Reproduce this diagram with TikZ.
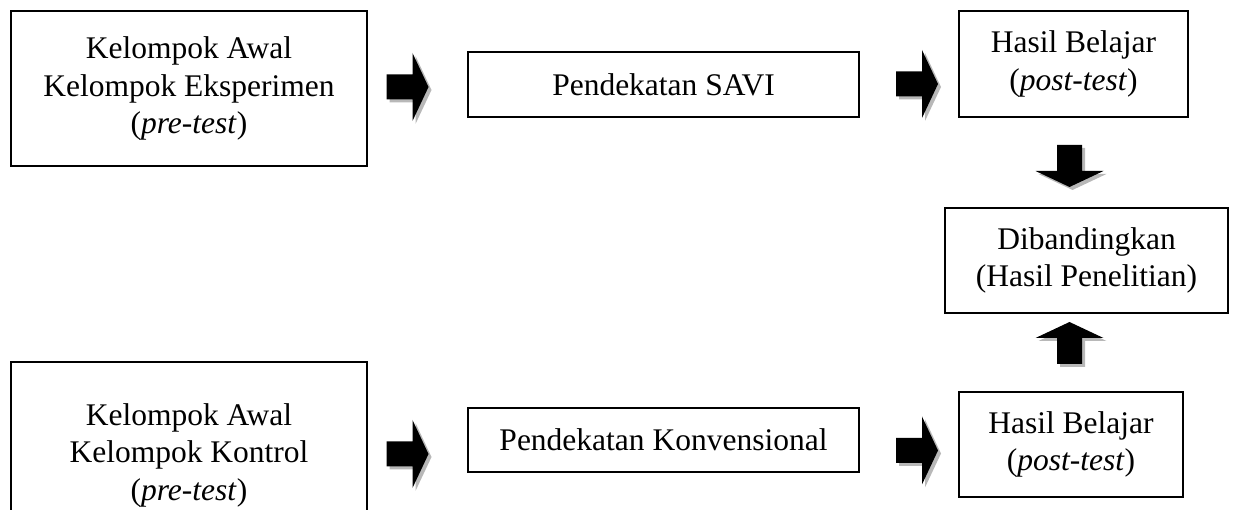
\documentclass[tikz,border=0pt]{standalone}
\usepackage{fontspec}
\setmainfont{Liberation Serif}
\usetikzlibrary{calc}
\definecolor{shadowgray}{gray}{0.72}
\tikzset{
  blockarrow/.pic={
    \fill[pic actions] (-21,-12.5) -- (5,-12.5) -- (5,-34) -- (21,0) -- (5,34) -- (5,12.5) -- (-21,12.5) -- cycle;
  },
  box/.style={draw, line width=1.1pt, align=center, inner sep=0pt,
    font=\fontsize{31.5}{37.5}\selectfont},
}
\newcommand{\myarrow}[2]{%
  \pic[fill=shadowgray, rotate=#2] at ($(#1)+(3,-3)$) {blockarrow};
  \pic[fill=black, rotate=#2] at (#1) {blockarrow};
}
\begin{document}
\begin{tikzpicture}[x=1pt,y=1pt]
\useasboundingbox (0,0) rectangle (1236,510);
\node[box, minimum width=356pt, minimum height=155pt] (A) at (189,421.5)
  {Kelompok Awal\\Kelompok Eksperimen\\(\textit{pre-test})};
\node[box, minimum width=391pt, minimum height=65pt] (B) at (663.5,425.5)
  {Pendekatan SAVI};
\node[box, minimum width=229pt, minimum height=106pt] (C) at (1073.5,446)
  {Hasil Belajar\\(\textit{post-test})};
\node[box, minimum width=283pt, minimum height=105pt] (D) at (1086.5,249.5)
  {Dibandingkan\\(Hasil Penelitian)};
\node[box, minimum width=356pt, minimum height=186pt] (E) at (189,55)
  {Kelompok Awal\\Kelompok Kontrol\\(\textit{pre-test})};
\node[box, minimum width=391pt, minimum height=64pt] (F) at (663.5,70)
  {Pendekatan Konvensional};
\node[box, minimum width=224pt, minimum height=105pt] (G) at (1071,65.5)
  {Hasil Belajar\\(\textit{post-test})};
\coordinate (a1) at (407.5,423);
\coordinate (a2) at (917,426);
\coordinate (a3) at (1069.5,344);
\coordinate (a4) at (1069.5,167);
\coordinate (a5) at (407.5,56);
\coordinate (a6) at (917,59.5);
\myarrow{a1}{0}
\myarrow{a2}{0}
\myarrow{a3}{-90}
\myarrow{a4}{90}
\myarrow{a5}{0}
\myarrow{a6}{0}
\end{tikzpicture}
\end{document}
